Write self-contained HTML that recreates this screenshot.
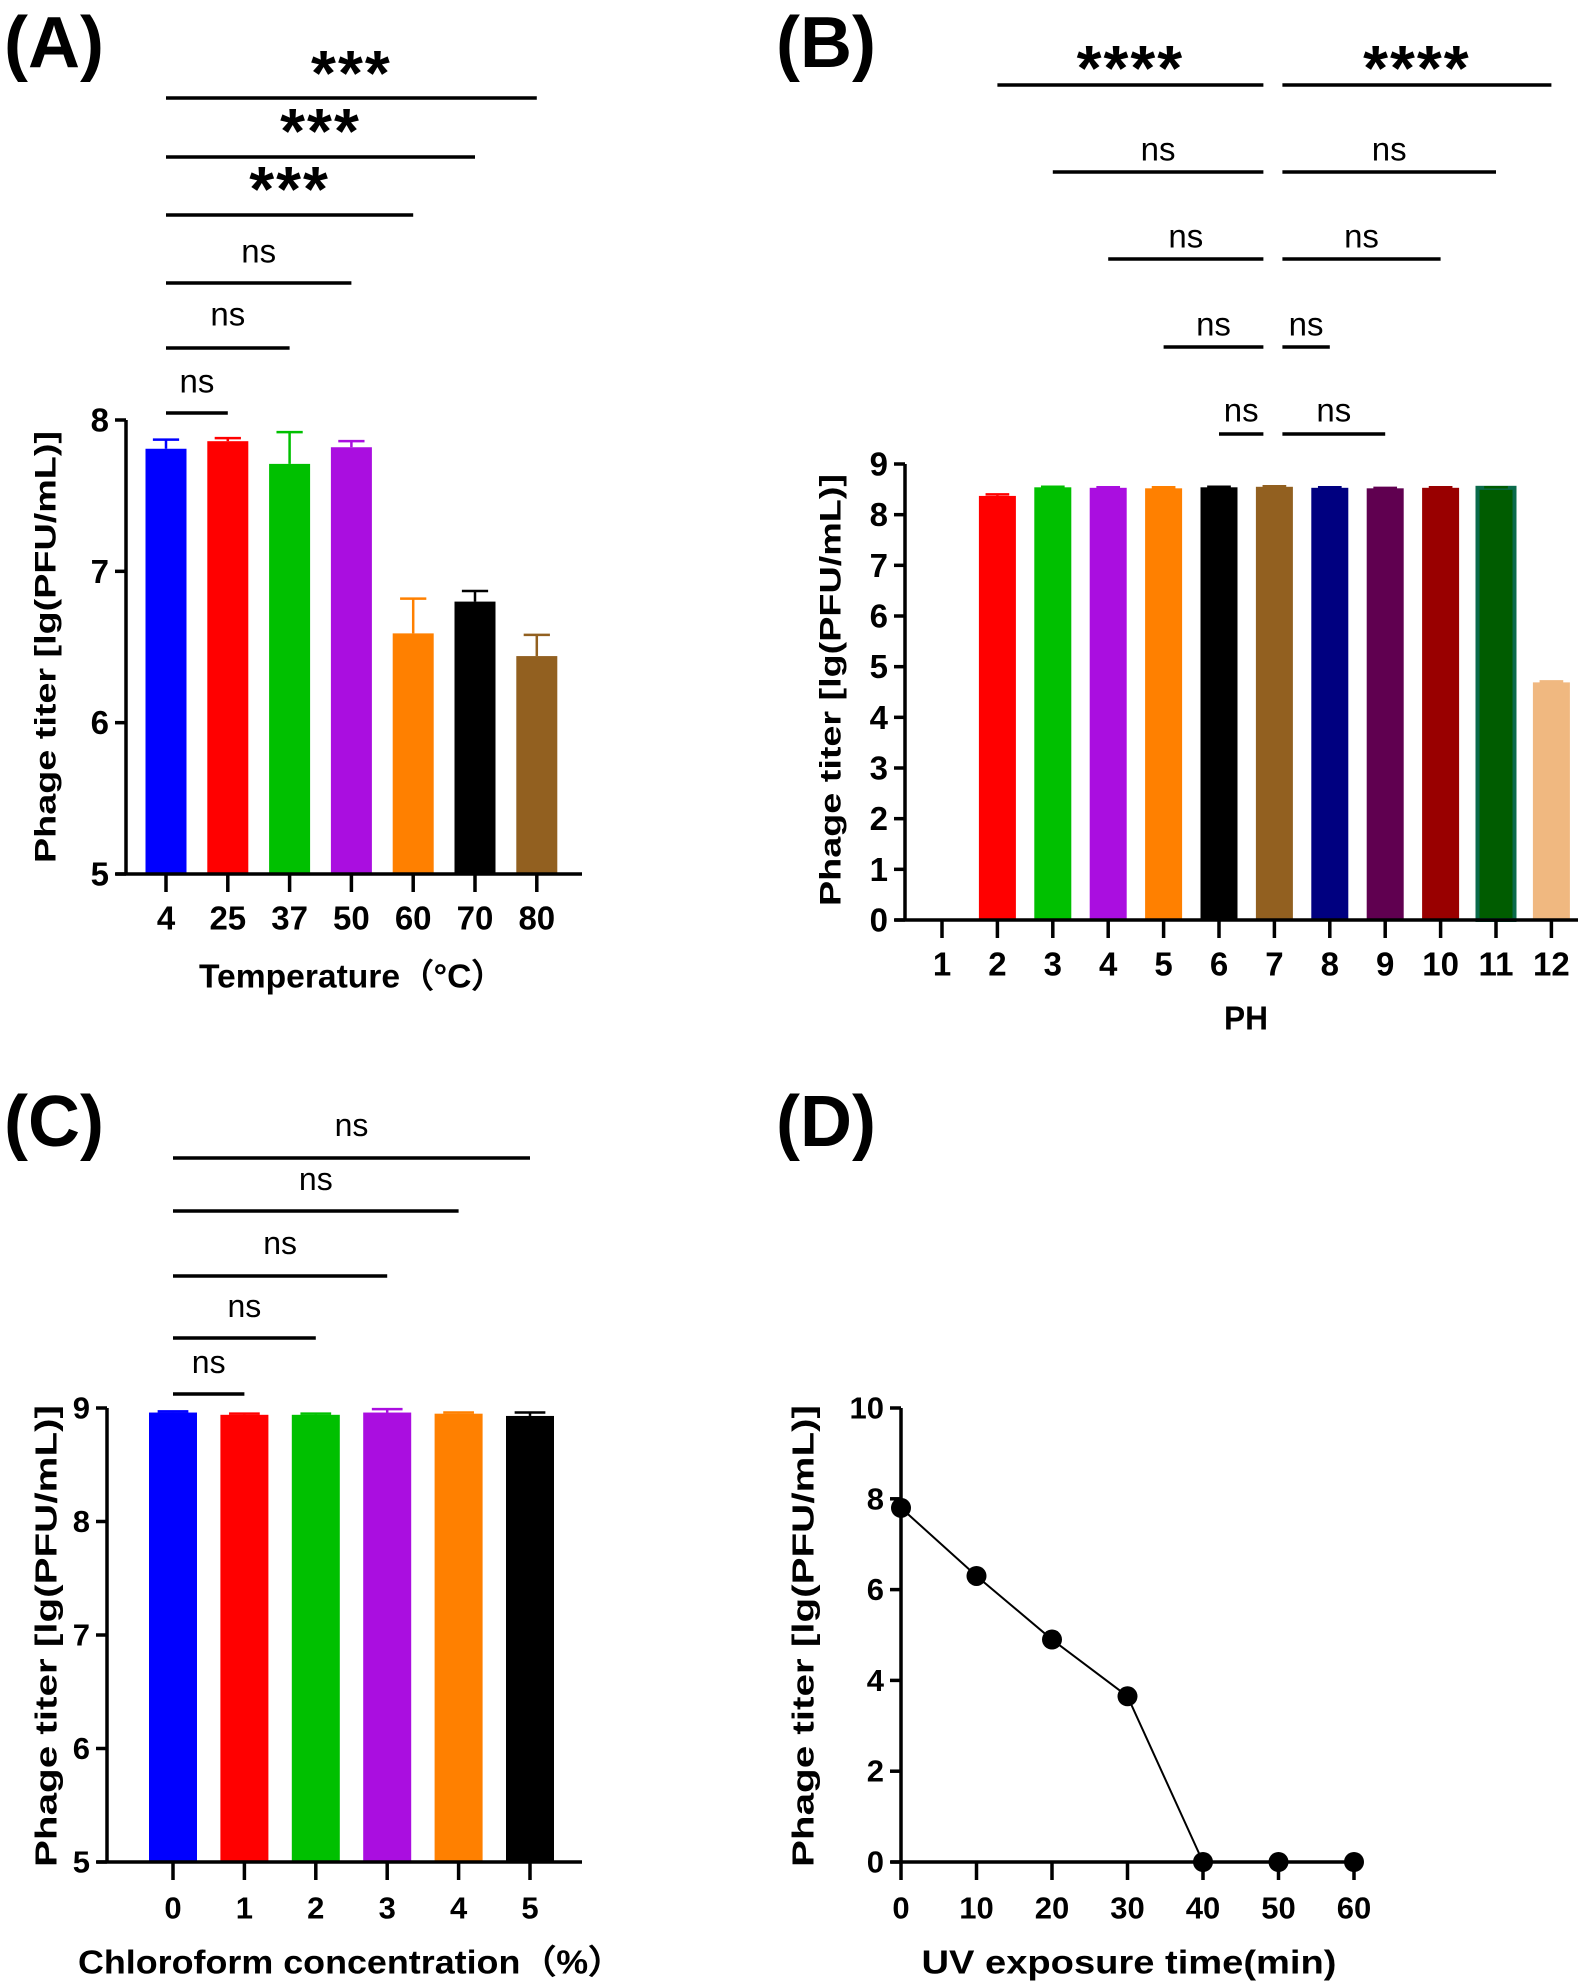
<!DOCTYPE html>
<html><head><meta charset="utf-8"><style>
html,body{margin:0;padding:0;background:#fff}
svg{display:block}
text{font-family:"Liberation Sans",Arial,sans-serif;fill:#000}
.b{font-weight:bold}
</style></head><body>
<svg id="fig" width="1595" height="1988" viewBox="0 0 1595 1988" xmlns="http://www.w3.org/2000/svg">
<text x="4" y="67" class="b" font-size="72">(A)</text>
<text x="776" y="67" class="b" font-size="72">(B)</text>
<text x="4" y="1146" class="b" font-size="72">(C)</text>
<text x="776" y="1146" class="b" font-size="72">(D)</text>
</svg>
<script>
// Panel A data
const aCats=["4","25","37","50","60","70","80"];
const aVals=[7.81,7.86,7.71,7.82,6.59,6.80,6.44];
const aErr=[0.06,0.02,0.21,0.04,0.23,0.07,0.14];
const aTicks=[5,6,7,8];
const aColors=["#0000ff","#ff0000","#00c000","#aa0ee0","#ff8000","#000000","#926020"];
// Panel B data
const bCats=["1","2","3","4","5","6","7","8","9","10","11","12"];
const bVals=[0,8.37,8.54,8.53,8.52,8.54,8.55,8.53,8.52,8.53,8.53,4.69];
const bErr=[0,0.03,0.01,0.01,0.02,0.01,0.01,0.01,0.01,0.01,0.01,0.02];
const bTicks=[0,1,2,3,4,5,6,7,8,9];
const bColors=["#000","#ff0000","#00c000","#aa0ee0","#ff8000","#000000","#926020","#000080","#600050","#990000","#005c00","#f0b880"];
// Panel C data
const cCats=["0","1","2","3","4","5"];
const cVals=[8.96,8.94,8.94,8.96,8.95,8.93];
const cErr=[0.01,0.01,0.01,0.03,0.01,0.03];
const cTicks=[5,6,7,8,9];
const cColors=["#0000ff","#ff0000","#00c000","#aa0ee0","#ff8000","#000000"];
// Panel D data
const dX=[0,10,20,30,40,50,60];
const dY=[7.8,6.3,4.9,3.65,0,0,0];
const dTicksY=[0,2,4,6,8,10];
const dTicksX=[0,10,20,30,40,50,60];

const NS="http://www.w3.org/2000/svg";
const svg=document.getElementById('fig');
function mk(tag,attrs,parent){const e=document.createElementNS(NS,tag);for(const k in attrs)e.setAttribute(k,attrs[k]);(parent||svg).appendChild(e);return e;}
function line(x1,y1,x2,y2,w,p){return mk('line',{x1:x1,y1:y1,x2:x2,y2:y2,stroke:'#000','stroke-width':w||3},p);}
function txt(s,x,y,size,bold,anchor,p){const t=mk('text',{x:x,y:y,'font-size':size,'text-anchor':anchor||'middle','dominant-baseline':'central'},p);if(bold)t.setAttribute('font-weight','bold');t.textContent=s;return t;}

function barPanel(o){
  const g=mk('g',{});
  
  
  const ys=v=>o.y0+(v-o.ymin)/(o.ymax-o.ymin)*(o.y1-o.y0);
  const xs=i=>o.x0+o.step*i;
  o.vals.forEach((v,i)=>{
    if(v<=o.ymin)return;
    const r=mk('rect',{x:xs(i)-o.bw/2,y:ys(v),width:o.bw,height:o.y0-ys(v),fill:o.colors[i]},g);
    
    
    if(o.stroke&&o.stroke[i]){r.setAttribute('stroke',o.stroke[i]);r.setAttribute('stroke-width',4);}
    const ec=o.colors[i];
    const ye=ys(v+o.err[i]);
    const e1=mk('line',{x1:xs(i),y1:ys(v),x2:xs(i),y2:ye,stroke:ec,'stroke-width':2.5},g);
    
    
    mk('line',{x1:xs(i)-o.bw*0.32,y1:ye,x2:xs(i)+o.bw*0.32,y2:ye,stroke:ec,'stroke-width':2.5},g);
  });
  const ya=line(o.ax,o.y0+1.5,o.ax,o.y1,3.5,g);
  
  
  const xa=line(o.ax-10,o.y0,o.xend,o.y0,3.5,g);
  
  
  o.ticks.forEach(t=>{line(o.ax-11,ys(t),o.ax,ys(t),3.5,g);
    const l=txt(String(t),o.ax-17,ys(t),o.tfs,true,'end',g);
    
    });
  o.cats.forEach((c,i)=>{line(xs(i),o.y0,xs(i),o.y0+18,3.5,g);
    const l=txt(c,xs(i),o.ly,o.tfs,true,'middle',g);
    
    });
  return {g:g,xs:xs,ys:ys};
}
function ytitle(x,y,len,size,name){const t=mk('text',{x:0,y:0,'font-size':size,'font-weight':'bold','text-anchor':'middle','dominant-baseline':'central',transform:`translate(${x},${y}) rotate(-90)`,textLength:len,lengthAdjust:'spacingAndGlyphs'});t.textContent='Phage titer [lg(PFU/mL)]';
  
  }
function xtitle(s,x,y,len,size,name){const t=txt(s,x,y,size,true,'middle');t.setAttribute('textLength',len);t.setAttribute('lengthAdjust','spacingAndGlyphs');
  
  }
function sig(x1,x2,y,label,ty,bold,size,g){line(x1,y,x2,y,3.5,g);
  const star=label.indexOf('*')>=0;
  const t=txt(label,(x1+x2)/2,star?ty+3:ty,star?64:size,bold,'middle',g);
  if(star){t.setAttribute('letter-spacing','2');}
  
  }

// Panel A
const A=barPanel({name:'panel-a-chart',cats:aCats,vals:aVals,err:aErr,colors:aColors,ticks:aTicks,ymin:5,ymax:8,y0:874,y1:420,ax:126,x0:166,step:61.8,bw:41,xend:582,ly:918,tfs:33});
ytitle(46,647,432,30,'panel-a-y-title');
xtitle('Temperature（°C）',352,976,306,33,'panel-a-x-title');
sig(A.xs(0),A.xs(6),98,'***',70,true,38);
sig(A.xs(0),A.xs(5),157,'***',128,true,38);
sig(A.xs(0),A.xs(4),215,'***',186,true,38);
sig(A.xs(0),A.xs(3),283,'ns',251,false,33);
sig(A.xs(0),A.xs(2),348,'ns',314,false,33);
sig(A.xs(0),A.xs(1),413,'ns',381,false,33);

// Panel B
const B=barPanel({name:'panel-b-chart',cats:bCats,vals:bVals,err:bErr,colors:bColors,stroke:[0,0,0,0,0,0,0,0,0,0,'#0a6a4a',0],ticks:bTicks,ymin:0,ymax:9,y0:920,y1:464,ax:905,x0:942,step:55.4,bw:37,xend:1578,ly:964,tfs:33});
ytitle(831,690,432,30,'panel-b-y-title');
xtitle('PH',1246,1018,44,33,'panel-b-x-title');
const L7=B.xs(6)-11, R7=B.xs(6)+8;
sig(B.xs(1),L7,85,'****',65,true,38);
sig(R7,B.xs(11),85,'****',65,true,38);
sig(B.xs(2),L7,172,'ns',149,false,33);
sig(R7,B.xs(10),172,'ns',149,false,33);
sig(B.xs(3),L7,259,'ns',236,false,33);
sig(R7,B.xs(9),259,'ns',236,false,33);
sig(B.xs(4),L7,347,'ns',324,false,33);
sig(R7,B.xs(7),347,'ns',324,false,33);
sig(B.xs(5),L7,434,'ns',410,false,33);
sig(R7,B.xs(8),434,'ns',410,false,33);

// Panel C
const C=barPanel({name:'panel-c-chart',cats:cCats,vals:cVals,err:cErr,colors:cColors,ticks:cTicks,ymin:5,ymax:9,y0:1862,y1:1408,ax:107,x0:173,step:71.4,bw:48,xend:582,ly:1908,tfs:31});
ytitle(46,1636,462,31,'panel-c-y-title');
xtitle('Chloroform concentration（%）',351,1962,546,33,'panel-c-x-title');
sig(C.xs(0),C.xs(5),1158,'ns',1125,false,32);
sig(C.xs(0),C.xs(4),1211,'ns',1179,false,32);
sig(C.xs(0),C.xs(3),1276,'ns',1243,false,32);
sig(C.xs(0),C.xs(2),1338,'ns',1306,false,32);
sig(C.xs(0),C.xs(1),1394,'ns',1362,false,32);

// Panel D
(function(){
  const g=mk('g',{});
  
  
  const x0=901,y0=1862,y1=1408,xe=1354;
  const xs=v=>x0+(v-0)/(60-0)*(xe-x0);
  const ys=v=>y0+(v-0)/(10-0)*(y1-y0);
  const ya=line(x0,y0+1.5,x0,y1,3.5,g);
  
  
  const xa=line(x0-10,y0,xe+8,y0,3.5,g);
  
  
  dTicksY.forEach(t=>{line(x0-11,ys(t),x0,ys(t),3.5,g);
    const l=txt(String(t),x0-17,ys(t),31,true,'end',g);
    
    });
  dTicksX.forEach(t=>{line(xs(t),y0,xs(t),y0+18,3.5,g);
    const l=txt(String(t),xs(t),1908,31,true,'middle',g);
    
    });
  const pl=mk('polyline',{points:dX.map((x,i)=>xs(x)+','+ys(dY[i])).join(' '),fill:'none',stroke:'#000','stroke-width':2},g);
  
  
  dX.forEach((x,i)=>{const c=mk('circle',{cx:xs(x),cy:ys(dY[i]),r:10,fill:'#000'},g);
    
    });
})();
ytitle(803,1636,462,31,'panel-d-y-title');
xtitle('UV exposure time(min)',1129,1962,415,33,'panel-d-x-title');
</script>
</body></html>
